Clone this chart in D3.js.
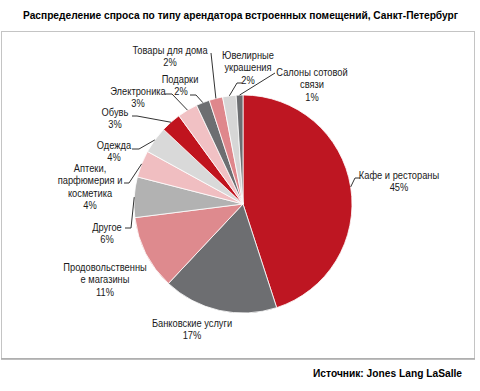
<!DOCTYPE html>
<html>
<head>
<meta charset="utf-8">
<script src="https://cdn.jsdelivr.net/npm/d3@7"></script>
<style>
  body { margin: 0; background: #fff; }
  svg text { font-family: "Liberation Sans Narrow", "Arial Narrow", "Liberation Sans", sans-serif; }
</style>
</head>
<body>
<div id="chart"></div>
<script>
// Данные
const categories = [
    'Кафе и рестораны', 'Банковские услуги', 'Продовольственные магазины', 'Другое',
    'Аптеки, парфюмерия и косметика', 'Одежда', 'Обувь', 'Электроника', 'Подарки',
    'Товары для дома', 'Ювелирные украшения', 'Салоны сотовой связи'
];
const values = [45, 17, 11, 6, 4, 4, 3, 3, 2, 2, 2, 1];
// Подписи так, как они разбиты на строки в оригинале
const labelLines = [
    ['Кафе и рестораны'], ['Банковские услуги'], ['Продовольственны', 'е магазины'], ['Другое'],
    ['Аптеки,', 'парфюмерия и', 'косметика'], ['Одежда'], ['Обувь'], ['Электроника'], ['Подарки'],
    ['Товары для дома'], ['Ювелирные', 'украшения'], ['Салоны сотовой', 'связи']
];
const title = 'Распределение спроса по типу арендатора встроенных помещений, Санкт-Петербург';
const source = 'Источник: Jones Lang LaSalle';

// Цвета секторов
const colors = ['#be1622', '#6d6e71', '#de8a8e', '#b2b2b2', '#f0bec1', '#d9d9d9',
                '#c0141e', '#f1c1c4', '#6d6e71', '#df878c', '#d6d6d6', '#6d6e71'];

// Размещение подписей (центр первой строки) и изломы выносок
const labelPos = [
    { x: 399, y: 175, leader: [[355, 178], [360, 178]] },
    { x: 192, y: 323 },
    { x: 105, y: 267 },
    { x: 107, y: 227, leader: [[131, 228], [125, 228]] },
    { x: 90, y: 168, leader: [[129, 183], [124, 183]] },
    { x: 114, y: 145, leader: [[139, 149], [132, 149]] },
    { x: 115, y: 112, leader: [[137, 116], [132, 116]] },
    { x: 138, y: 91, leader: [[172, 94], [165, 94]] },
    { x: 180, y: 79, pctX: 181, leader: [[196, 95], [190, 95]] },
    { x: 170, y: 50, leader: [[211, 53]] },
    { x: 248, y: 55, leader: [[237, 83], [242, 83]] },
    { x: 312, y: 72, leader: [[275, 73]] }
];

const width = 480;
const height = 391;
const cx = 243, cy = 204, radius = 109;
const lineH = 12.3;
const squeeze = 0.81; // узкий шрифт не установлен, сжимаем по горизонтали

const svg = d3.select('#chart')
    .append('svg')
    .attr('width', width)
    .attr('height', height);

// Заголовок
svg.append('text')
    .attr('x', 23).attr('y', 19)
    .attr('textLength', 435).attr('lengthAdjust', 'spacingAndGlyphs')
    .style('font-family', '"Liberation Sans", Arial, sans-serif')
    .style('font-weight', 'bold').style('font-size', '10.5px')
    .attr('fill', '#000')
    .text(title);

// Рамка
svg.append('rect')
    .attr('x', 1.5).attr('y', 31.5)
    .attr('width', 473).attr('height', 327)
    .attr('fill', 'none').attr('stroke', '#c4c4c4').attr('stroke-width', 1);
svg.append('line')
    .attr('x1', 1).attr('x2', 475).attr('y1', 359).attr('y2', 359)
    .attr('stroke', '#a9a9a9').attr('stroke-width', 1.5);

// Источник
svg.append('text')
    .attr('x', 313).attr('y', 377)
    .attr('textLength', 149).attr('lengthAdjust', 'spacingAndGlyphs')
    .style('font-family', '"Liberation Sans", Arial, sans-serif')
    .style('font-weight', 'bold').style('font-size', '10px')
    .attr('fill', '#000')
    .text(source);

// Пирог
const pie = d3.pie().sort(null).value(d => d.value);
const arcs = pie(values.map((v, i) => ({ value: v, i: i })));

const arc = d3.arc().innerRadius(0).outerRadius(radius);
const rim = d3.arc().innerRadius(radius).outerRadius(radius);

const g = svg.append('g').attr('transform', `translate(${cx},${cy})`);

g.selectAll('path.slice')
    .data(arcs)
    .enter().append('path')
    .attr('class', 'slice')
    .attr('d', arc)
    .attr('fill', d => colors[d.data.i])
    .attr('stroke', '#fff')
    .attr('stroke-width', 0.8);

// Выноски
arcs.forEach(d => {
    const p = labelPos[d.data.i];
    if (!p.leader) return;
    const c = rim.centroid(d);
    const pts = [[cx + c[0], cy + c[1]]].concat(p.leader);
    svg.append('path')
        .attr('d', d3.line()(pts))
        .attr('fill', 'none')
        .attr('stroke', '#333')
        .attr('stroke-width', 1);
});

// Подписи
arcs.forEach(d => {
    const i = d.data.i;
    const p = labelPos[i];
    const lines = labelLines[i];
    const t = svg.append('g')
        .attr('transform', `translate(${p.x},0) scale(${squeeze},1)`)
        .append('text')
        .attr('text-anchor', 'middle')
        .style('font-size', '11.5px')
        .attr('fill', '#1a1a1a');
    lines.forEach((s, k) => {
        t.append('tspan')
            .attr('x', 0)
            .attr('y', p.y + 4 + k * lineH)
            .text(s);
    });
    t.append('tspan')
        .attr('x', ((p.pctX || p.x) - p.x) / squeeze)
        .attr('y', p.y + 4 + lines.length * lineH)
        .text(values[i] + '%');
});
</script>
</body>
</html>
